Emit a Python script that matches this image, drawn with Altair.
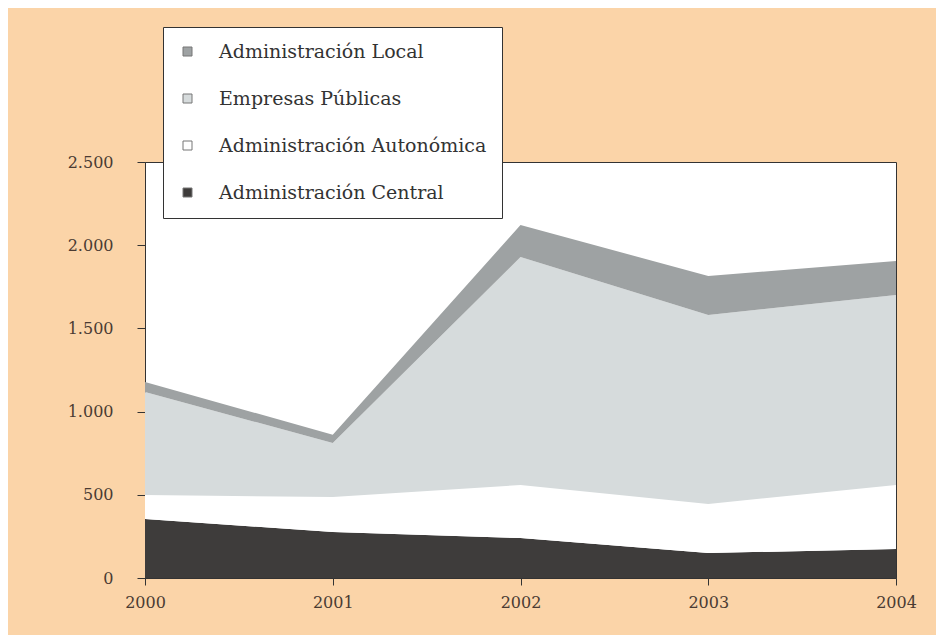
import altair as alt
import pandas as pd

years = [2000, 2001, 2002, 2003, 2004]
central = [355, 276, 240, 150, 174]
autonomica = [144, 211, 319, 295, 385]
empresas = [619, 324, 1370, 1136, 1142]
local = [60, 50, 192, 234, 204]

series_names = ["Administración Local", "Empresas Públicas",
                "Administración Autonómica", "Administración Central"]
series_colors = ["#9ea2a3", "#d6dbdc", "#ffffff", "#3e3c3b"]
stack_order = {"Administración Central": 1, "Administración Autonómica": 2,
               "Empresas Públicas": 3, "Administración Local": 4}
y_ticks = [0, 500, 1000, 1500, 2000, 2500]

rows = []
for name, vals in [("Administración Central", central),
                   ("Administración Autonómica", autonomica),
                   ("Empresas Públicas", empresas),
                   ("Administración Local", local)]:
    for yr, v in zip(years, vals):
        rows.append({"year": yr, "serie": name, "value": v, "ord": stack_order[name]})
df = pd.DataFrame(rows)

FONT = "DejaVu Serif"
TXT = "#4a3b33"

chart = alt.Chart(df).mark_area(interpolate="linear").encode(
    x=alt.X("year:Q", scale=alt.Scale(domain=[2000, 2004], nice=False, zero=False),
            axis=alt.Axis(values=years, format="d", title=None, grid=False,
                          tickSize=7, labelPadding=9, domainColor="#333",
                          tickColor="#333", labelFontSize=16, labelColor=TXT,
                          labelFont=FONT, labelFlush=False)),
    y=alt.Y("value:Q", stack="zero", scale=alt.Scale(domain=[0, 2500], nice=False),
            axis=alt.Axis(values=y_ticks, title=None, grid=False, tickSize=8,
                          labelPadding=24, domainColor="#333", tickColor="#333",
                          labelFontSize=16, labelColor=TXT, labelFont=FONT,
                          labelExpr="replace(format(datum.value, ','), ',', '.')")),
    color=alt.Color("serie:N",
                    scale=alt.Scale(domain=series_names, range=series_colors),
                    legend=alt.Legend(title=None, orient="none", legendX=18, legendY=-135,
                                      direction="vertical", symbolType="square",
                                      symbolSize=81, symbolStrokeColor="#777",
                                      symbolStrokeWidth=1, labelFontSize=19,
                                      labelFont=FONT, labelColor="#333", labelLimit=500,
                                      labelOffset=22, rowPadding=27, padding=15,
                                      strokeColor="#333", fillColor="white")),
    order=alt.Order("ord:Q", sort="ascending"),
).properties(
    width=751, height=416,
    autosize=alt.AutoSizeParams(type="none"),
    padding={"left": 137, "top": 154, "right": 40, "bottom": 60},
    background="#fbd4a8",
).configure_view(
    fill="white", stroke="#333", strokeWidth=1
)

chart.save("out.html", embed_options={"renderer": "svg", "actions": False})
